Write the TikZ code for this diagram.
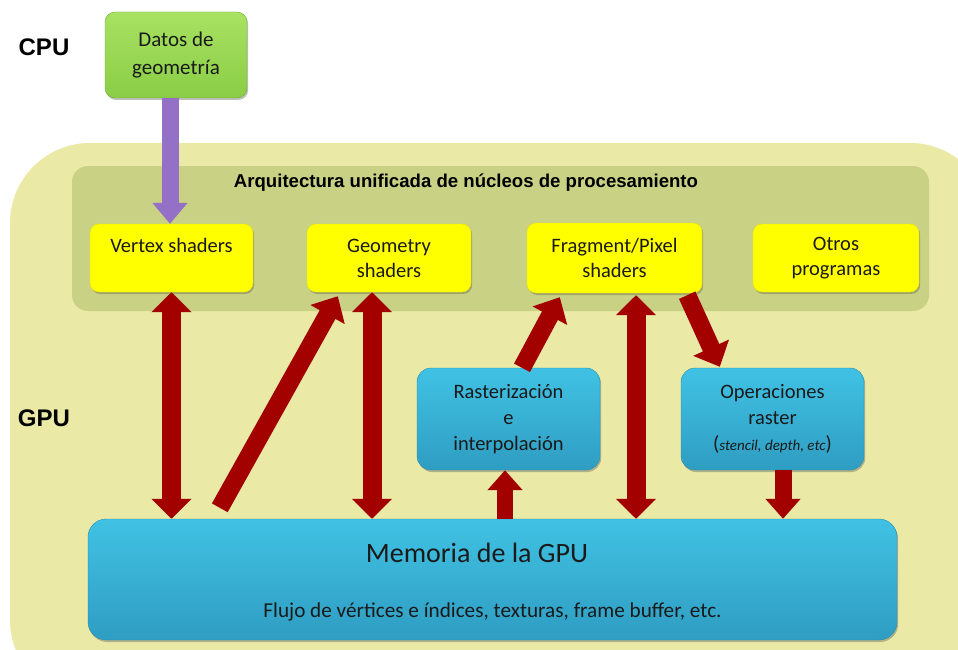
\documentclass[tikz,border=0pt]{standalone}
\usepackage{fontspec}
\setmainfont{Carlito}
\newfontfamily\arialfont{Liberation Sans}
\usetikzlibrary{arrows.meta,calc,shadows}
\definecolor{gpubg}{HTML}{EAE9A6}
\definecolor{panelc}{HTML}{C9D284}
\definecolor{yel}{HTML}{FFFF00}
\definecolor{bluetop}{HTML}{40C2E4}
\definecolor{bluebot}{HTML}{2F9DC2}
\definecolor{greentop}{HTML}{A8E262}
\definecolor{greenbot}{HTML}{8ACD45}
\definecolor{arrred}{HTML}{A30000}
\definecolor{purp}{HTML}{9470C6}
\definecolor{txt}{HTML}{1A1A1A}
\tikzset{
  shd/.style={drop shadow={shadow xshift=1.2pt,shadow yshift=-2pt,opacity=.35,fill=black!70}},
  yelbox/.style={fill=yel, draw=yel!90!black, line width=.4pt, rounded corners=9pt, shd, inner sep=0pt, align=center, text=txt, font=\fontsize{20.5}{25}\selectfont},
  bluebox/.style={top color=bluetop, bottom color=bluebot, draw=bluebot!90!black, line width=.4pt, rounded corners=14pt, shd, inner sep=0pt, align=center, text=txt, font=\fontsize{20.5}{26}\selectfont},
  greenbox/.style={top color=greentop, bottom color=greenbot, draw=greenbot!85!black, line width=.4pt, rounded corners=10pt, shd, inner sep=0pt, align=center, text=txt, font=\fontsize{21}{28}\selectfont},
  panelbox/.style={fill=panelc, rounded corners=16pt, inner sep=0pt},
  lbl/.style={font=\arialfont\bfseries\fontsize{24}{28}\selectfont, text=black},
  ttl/.style={font=\arialfont\bfseries\fontsize{18.6}{22}\selectfont, text=black},
  redarrow/.style={draw=arrred, line width=18pt, -{Triangle[width=38pt,length=21pt]}},
  reddbl/.style={draw=arrred, line width=19pt, {Triangle[width=39pt,length=20pt]}-{Triangle[width=39pt,length=20pt]}},
  purparrow/.style={draw=purp, line width=17pt, -{Triangle[width=34pt,length=21pt]}}
}
\begin{document}
\begin{tikzpicture}[x=1pt,y=1pt]
\useasboundingbox (0,0) rectangle (958,-650);
\fill[white] (0,0) rectangle (958,-650);
\begin{scope}
\clip (0,0) rectangle (958,-650);
\fill[gpubg, rounded corners=80pt] (10,-143) rectangle (990,-700);
\end{scope}
% labels
\node[lbl] (cpu) at (44,-47) {CPU};
\node[lbl] (gpu) at (44,-418) {GPU};
% panel
\node[panelbox, minimum width=857, minimum height=145] (panel) at (500.5,-238.5) {};
\node[ttl] (title) at (466,-183) {Arquitectura unificada de núcleos de procesamiento};
% CPU box
\node[greenbox, minimum width=142, minimum height=86] (datos) at (176,-55) {Datos de\\geometría};
% shader boxes
\node[yelbox, minimum width=163, minimum height=68] (vs) at (171.5,-258) {Vertex shaders\\\mbox{}};
\node[yelbox, minimum width=164, minimum height=68] (geo) at (389,-258) {Geometry\\shaders};
\node[yelbox, minimum width=175, minimum height=70] (frag) at (614.5,-258) {Fragment/Pixel\\shaders};
\node[yelbox, minimum width=166, minimum height=68] (otros) at (836,-258) {Otros\\programas};
% blue boxes
\node[bluebox, minimum width=183, minimum height=102] (ras) at (508.5,-419) {Rasterización\\e\\interpolación};
\node[bluebox, minimum width=183, minimum height=102] (ops) at (772.5,-419) {Operaciones\\raster\\(\textit{\fontsize{15}{18}\selectfont stencil, depth, etc})};
\node[bluebox, rounded corners=18pt, minimum width=809, minimum height=121] (mem) at (492.5,-579.5) {};
\node[font=\fontsize{28}{32}\selectfont, text=txt] (memt) at (477,-553) {Memoria de la GPU};
\node[font=\fontsize{21.2}{25}\selectfont, text=txt] (mems) at (492.5,-612) {Flujo de vértices e índices, texturas, frame buffer, etc.};
% purple arrow
\coordinate (p1) at (datos.south -| 170,0);
\draw[purparrow] (p1) -- (p1 |- vs.north);
% red arrows
\draw[reddbl] (vs.south) -- (vs.south |- mem.north);
\coordinate (g1) at ($(geo.south)+(-17,0)$);
\draw[reddbl] (g1) -- (g1 |- mem.north);
\coordinate (d1) at ($(mem.north west)+(132,11)$);
\coordinate (d2) at ($(geo.south west)+(31,-4)$);
\draw[redarrow] (d1) -- (d2);
\coordinate (r1) at ($(ras.south)+(-3.5,0)$);
\draw[redarrow, line width=16pt, -{Triangle[width=34pt,length=20pt]}] (r1 |- mem.north) -- (r1);
\coordinate (r2) at ($(ras.north)+(13.5,0)$);
\coordinate (r3) at ($(frag.south west)+(33,-4)$);
\draw[redarrow] (r2) -- (r3);
\coordinate (f1) at ($(frag.south)+(21.5,-2)$);
\draw[reddbl] (f1) -- (f1 |- mem.north);
\coordinate (f2) at ($(frag.south east)+(-15,-2)$);
\coordinate (o1) at ($(ops.north west)+(39,1)$);
\draw[redarrow] (f2) -- (o1);
\coordinate (o2) at ($(ops.south)+(10.5,0)$);
\draw[redarrow, line width=17pt, -{Triangle[width=34pt,length=20pt]}] (o2) -- (o2 |- mem.north);
\end{tikzpicture}
\end{document}
